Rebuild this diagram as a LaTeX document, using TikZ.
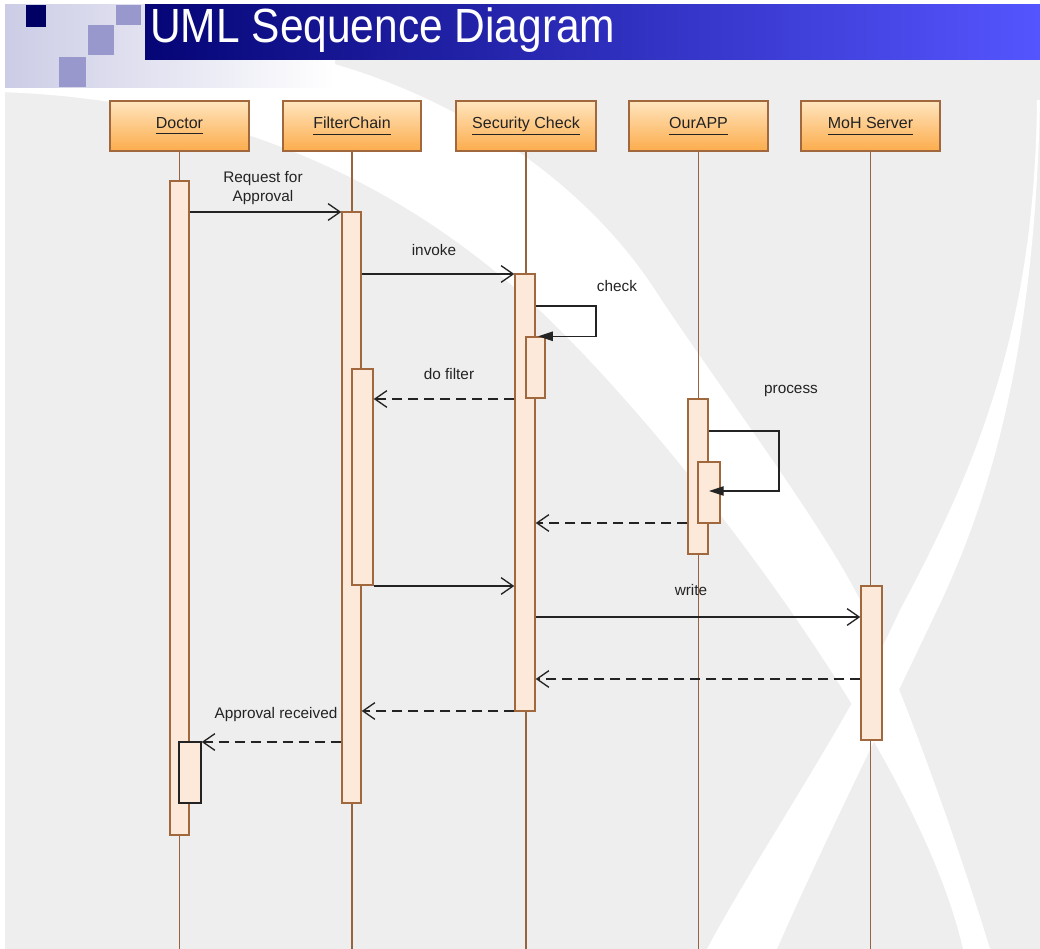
\documentclass[tikz,border=0pt]{standalone}
\usepackage{fontspec}
\setmainfont{Liberation Sans}
\usepackage{graphicx}
\usetikzlibrary{arrows.meta,fit,calc}

\definecolor{pagegray}{RGB}{238,238,238}
\definecolor{lifebrown}{RGB}{150,100,62}
\definecolor{boxbrown}{RGB}{160,104,60}
\definecolor{peach}{RGB}{253,233,218}
\definecolor{headtop}{RGB}{255,229,190}
\definecolor{headbot}{RGB}{252,172,76}
\definecolor{navy}{RGB}{5,5,118}
\definecolor{barblue}{RGB}{85,85,255}
\definecolor{lav}{RGB}{204,204,230}
\definecolor{lavdark}{RGB}{152,152,204}
\definecolor{sqnavy}{RGB}{0,0,100}
\definecolor{ink}{RGB}{35,35,35}

\newcommand\uname[1]{\underline{\vphantom{y}#1}}

\begin{document}
\begin{tikzpicture}[x=0.75pt,y=-0.75pt,
  head/.style={draw=boxbrown, line width=1.1pt, top color=headtop, bottom color=headbot, inner sep=0pt},
  hdtext/.style={font=\fontsize{12}{14}\selectfont, text=ink},
  lifeline/.style={draw=lifebrown, line width=1.2pt},
  act/.style={draw=boxbrown, line width=1.1pt, fill=peach, inner sep=0pt},
  msg/.style={draw=ink, line width=1pt, -{Straight Barb[length=9pt,width=12.5pt,line width=1pt]}},
  ret/.style={msg, dash pattern=on 7.5pt off 4.5pt},
  selfmsg/.style={draw=ink, line width=1pt, -{Triangle[length=11pt,width=7pt]}},
  lbl/.style={font=\fontsize{11.5}{14.25}\selectfont, text=ink, inner sep=0pt}
]
\useasboundingbox (0,0) rectangle (1040,949);

% ---- page background ----
\fill[white] (0,0) rectangle (1040,949);
\fill[pagegray] (5,60) rectangle (1040,949);

% white swoosh across the page
\fill[white] (0,92) .. controls (250,100) and (430,200) .. (560,330)
  .. controls (700,470) and (920,760) .. (963,949)
  -- (990,949) .. controls (960,850) and (900,680) .. (860,600)
  .. controls (820,520) and (707,370) .. (655,290)
  .. controls (590,190) and (470,100) .. (320,60)
  -- (0,60) -- cycle;
% second, crossing swoosh, thin at the top and widening downwards
\fill[white] (1040,100) .. controls (1035,350) and (990,500) .. (937,610)
  .. controls (890,710) and (820,850) .. (777,949)
  -- (707,949) .. controls (760,850) and (850,720) .. (900,610)
  .. controls (975,470) and (1035,330) .. (1037,100) -- cycle;

% ---- header decoration ----
\fill[left color=lav, right color=white] (5,5) rectangle (335,88);
\fill[lavdark] (116,5) rectangle (141,25);
\fill[lavdark] (88,25) rectangle (114,55);
\fill[lavdark] (59,57) rectangle (86,87);
\fill[sqnavy] (26,5) rectangle (46,27);
\fill[left color=navy, right color=barblue] (145,5) rectangle (1040,60);
\node[anchor=base west, text=white, inner sep=0pt, font=\fontsize{36}{40}\selectfont]
  (title) at (150,43) {\scalebox{0.885}[1]{UML Sequence Diagram}};

% ---- participants ----
\node[head, fit={(110,101) (249,151)}, label={[hdtext]center:\uname{Doctor}}] (doc) {};
\node[head, fit={(283,101) (421,151)}, label={[hdtext]center:\uname{FilterChain}}] (flt) {};
\node[head, fit={(456,101) (596,151)}, label={[hdtext]center:\uname{Security Check}}] (sec) {};
\node[head, fit={(629,101) (768,151)}, label={[hdtext]center:\uname{OurAPP}}] (app) {};
\node[head, fit={(801,101) (940,151)}, label={[hdtext]center:\uname{MoH Server}}] (moh) {};

\coordinate (bottom) at (0,949);
\foreach \p in {doc,flt,sec,app,moh}
  \draw[lifeline] (\p.south) -- (\p.south |- bottom);

% ---- activations ----
\node[act, fit={(170,181) (189,835)}] (dA) {};
\node[act, draw=ink, fit={(179,742) (201,803)}] (dN) {};
\node[act, fit={(342,212) (361,803)}] (fA) {};
\node[act, fit={(352,369) (373,585)}] (fN) {};
\node[act, fit={(515,274) (535,711)}] (sA) {};
\node[act, fit={(526,337) (545,398)}] (sN) {};
\node[act, fit={(688,399) (708,554)}] (oA) {};
\node[act, fit={(698,462) (720,523)}] (oN) {};
\node[act, fit={(861,586) (882,740)}] (mA) {};

% ---- message levels ----
\coordinate (m1) at (0,212);
\coordinate (m2) at (0,274);
\coordinate (chkA) at (596,306);
\coordinate (m4) at (0,399);
\coordinate (prA) at (779,431);
\coordinate (prB) at (779,491);
\coordinate (m6) at (0,523);
\coordinate (m7) at (0,586);
\coordinate (m8) at (0,617);
\coordinate (m9) at (0,679);
\coordinate (m10) at (0,711);
\coordinate (m11) at (0,742);

% ---- messages ----
\draw[msg] (dA.east |- m1) -- (fA.west |- m1);
\draw[msg] (fA.east |- m2) -- (sA.west |- m2);
\draw[selfmsg] (sA.east |- chkA) -- (chkA) -- (chkA |- sN.north) -- ([xshift=2pt]sN.north);
\draw[ret] (sA.west |- m4) -- (fN.east |- m4);
\draw[selfmsg] (oA.east |- prA) -- (prA) -- (prB) -- (oN.center |- prB);
\draw[ret] (oA.west |- m6) -- (sA.east |- m6);
\draw[msg] (fN.east |- m7) -- (sA.west |- m7);
\draw[msg] (sA.east |- m8) -- (mA.west |- m8);
\draw[ret] (mA.west |- m9) -- (sA.east |- m9);
\draw[ret] (sA.west |- m10) -- (fA.east |- m10);
\draw[ret] (fA.west |- m11) -- (dN.east |- m11);

% ---- message labels ----
\node[lbl, align=center] (lreq) at (263,188) {Request for\\Approval};
\node[lbl] (linv) at (434,250) {invoke};
\node[lbl] (lchk) at (617,286) {check};
\node[lbl] (lflt) at (449,374) {do filter};
\node[lbl] (lpro) at (791,391) {process};
\node[lbl] (lwri) at (691,590) {write};
\node[lbl] (lrec) at (276,715) {Approval received};
\end{tikzpicture}
\end{document}
